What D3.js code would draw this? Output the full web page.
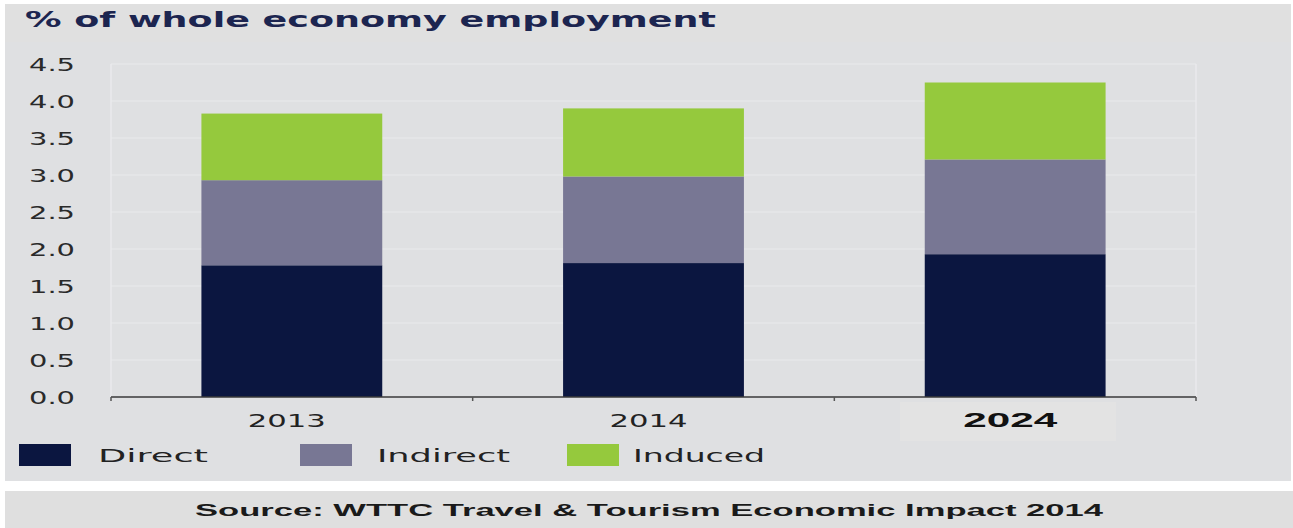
<!DOCTYPE html>
<html>
<head>
<meta charset="utf-8">
<script src="https://cdn.jsdelivr.net/npm/d3@7"></script>
<style>
  html, body { margin: 0; padding: 0; background: #ffffff; }
  svg { display: block; }
</style>
</head>
<body>
<svg id="chart" width="1293" height="528"></svg>
<script>
// Travel & Tourism share of total employment, by component
const years = ["2013", "2014", "2024"];
const direct = [1.78, 1.81, 1.93];
const indirect = [1.15, 1.17, 1.28];
const induced = [0.90, 0.92, 1.04];
const seriesNames = ["Direct", "Indirect", "Induced"];
const seriesColors = ["#0b1640", "#787794", "#95c93d"];
const yTicks = [0, 0.5, 1, 1.5, 2, 2.5, 3, 3.5, 4, 4.5];

const svg = d3.select("#chart");

// Fit a text element to a target width (the type is set horizontally wide)
function fit(sel, w) {
  sel.attr("textLength", w).attr("lengthAdjust", "spacingAndGlyphs");
  return sel;
}

// panels
svg.append("rect").attr("x", 5).attr("y", 4).attr("width", 1286).attr("height", 477).attr("fill", "#dfe0e2");
svg.append("rect").attr("x", 5).attr("y", 4).attr("width", 1286).attr("height", 38).attr("fill", "#e0e0e0");
svg.append("rect").attr("x", 5).attr("y", 491).attr("width", 1288).attr("height", 37).attr("fill", "#dfdfdf");

// title
fit(svg.append("text")
  .attr("x", 25).attr("y", 27)
  .attr("font-family", "DejaVu Sans, sans-serif")
  .attr("font-weight", "bold")
  .attr("font-size", 21)
  .attr("fill", "#1c2550")
  .text("% of whole economy employment"), 691);

const margin = { left: 111, right: 1196, top: 64, bottom: 397 };

const x = d3.scaleBand().domain(years)
  .range([margin.left, margin.right])
  .paddingInner(0.5).paddingOuter(0.25);
const y = d3.scaleLinear().domain([0, 4.5]).range([margin.bottom, margin.top]);

// gridlines
svg.append("g").selectAll("line").data(yTicks.filter(d => d > 0)).join("line")
  .attr("x1", margin.left).attr("x2", margin.right)
  .attr("y1", d => y(d)).attr("y2", d => y(d))
  .attr("stroke", "#e9e9eb").attr("stroke-width", 1.2);
// frame verticals
[margin.left, margin.right].forEach(px => {
  svg.append("line").attr("x1", px).attr("x2", px)
    .attr("y1", margin.top).attr("y2", margin.bottom)
    .attr("stroke", "#eaeaec").attr("stroke-width", 1.5);
});

// y tick labels
svg.append("g").selectAll("text").data(yTicks).join("text")
  .attr("x", 75).attr("y", d => y(d) + 6.5)
  .attr("text-anchor", "end")
  .attr("font-family", "DejaVu Sans, sans-serif")
  .attr("font-size", 18)
  .attr("fill", "#2a2a2a")
  .attr("textLength", 46).attr("lengthAdjust", "spacingAndGlyphs")
  .text(d => d.toFixed(1));

// stacked bars
const rows = years.map((yr, i) => ({ year: yr, Direct: direct[i], Indirect: indirect[i], Induced: induced[i] }));
const stacked = d3.stack().keys(seriesNames)(rows);
const color = d3.scaleOrdinal().domain(seriesNames).range(seriesColors);

svg.append("g").selectAll("g").data(stacked).join("g")
  .attr("fill", d => color(d.key))
  .selectAll("rect").data(d => d).join("rect")
  .attr("x", d => x(d.data.year))
  .attr("width", x.bandwidth())
  .attr("y", d => y(d[1]))
  .attr("height", d => y(d[0]) - y(d[1]));

// x axis
const xAxisG = svg.append("g").attr("transform", `translate(0,${margin.bottom})`);
xAxisG.append("line").attr("x1", margin.left).attr("x2", margin.right)
  .attr("y1", 0).attr("y2", 0).attr("stroke", "#3a3a3a").attr("stroke-width", 1.5);
const step = x.step();
const bounds = [margin.left, margin.left + step, margin.left + 2 * step, margin.right];
xAxisG.selectAll("line.tick").data(bounds).join("line")
  .attr("class", "tick")
  .attr("x1", d => d).attr("x2", d => d)
  .attr("y1", 0).attr("y2", 4)
  .attr("stroke", "#555").attr("stroke-width", 1.5);

// highlight box behind the forecast year
svg.append("rect").attr("x", 900).attr("y", 402).attr("width", 216).attr("height", 39).attr("fill", "#e3e3e3");

svg.append("g").selectAll("text").data(years).join("text")
  .attr("x", d => x(d) + x.bandwidth() / 2 - 5)
  .attr("y", 427)
  .attr("text-anchor", "middle")
  .attr("font-family", d => d === "2024" ? "Liberation Sans, Arial, sans-serif" : "DejaVu Sans, sans-serif")
  .attr("font-weight", d => d === "2024" ? "bold" : "normal")
  .attr("font-size", d => d === "2024" ? 20 : 17.5)
  .attr("fill", d => d === "2024" ? "#111" : "#222")
  .attr("textLength", d => d === "2024" ? 94 : 78)
  .attr("lengthAdjust", "spacingAndGlyphs")
  .text(d => d);

// legend
const legendX = [19, 300, 567];
const legendTextX = [98, 377, 633];
const legendTextW = [110, 133, 132];
const lg = svg.append("g").selectAll("g").data(seriesNames).join("g");
lg.append("rect")
  .attr("x", (d, i) => legendX[i]).attr("y", 444)
  .attr("width", 52).attr("height", 22)
  .attr("fill", d => color(d));
lg.append("text")
  .attr("x", (d, i) => legendTextX[i]).attr("y", 462)
  .attr("font-family", "DejaVu Sans, sans-serif")
  .attr("font-size", 18)
  .attr("fill", "#222")
  .attr("textLength", (d, i) => legendTextW[i]).attr("lengthAdjust", "spacingAndGlyphs")
  .text(d => d);

// source note
fit(svg.append("text")
  .attr("x", 195).attr("y", 516)
  .attr("font-family", "Liberation Sans, Arial, sans-serif")
  .attr("font-weight", "bold")
  .attr("font-size", 16.5)
  .attr("fill", "#1a1a1a")
  .text("Source: WTTC Travel & Tourism Economic Impact 2014"), 908);
</script>
</body>
</html>
